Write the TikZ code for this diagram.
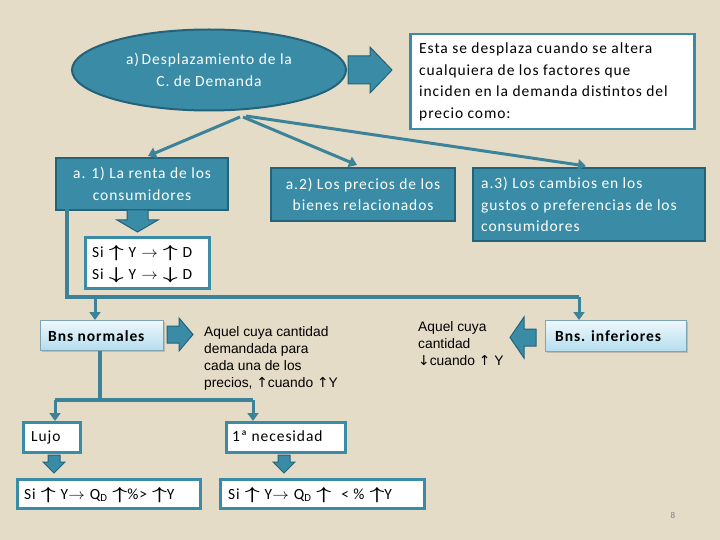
\documentclass[tikz,border=0pt]{standalone}
\usepackage{fontspec}
\setmainfont{Carlito}[LetterSpace=6]
\newfontfamily\arialf{Liberation Sans}
\newfontfamily\symf{DejaVu Sans}
\usetikzlibrary{shapes.geometric,arrows.meta,shadows,calc}
\definecolor{bg}{HTML}{E5DCC8}
\definecolor{tealf}{HTML}{3A8CA6}
\definecolor{tealdk}{HTML}{24627A}
\definecolor{tealln}{HTML}{3C8399}
\definecolor{lbtop}{HTML}{EEF8FC}
\definecolor{lbbot}{HTML}{B4DDEE}
\definecolor{lbdr}{HTML}{7FA5B5}
\newcommand{\ua}{{\symf\char"2191}}
\newcommand{\da}{{\symf\char"2193}}
\newcommand{\bua}{\scalebox{1.8}[1.2]{\boldmath$\uparrow$}}
\newcommand{\bda}{\scalebox{1.8}[1.2]{\boldmath$\downarrow$}}
\newcommand{\bra}{\scalebox{1.15}[1.05]{$\rightarrow$}}
\newcommand{\gp}{\hspace*{5pt}}
\begin{document}
\begin{tikzpicture}[x=1pt,y=-1pt,
  tealbox/.style={draw=tealdk, line width=2.2pt, fill=tealf, text=white, inner sep=0pt,
     font=\fontsize{15.5}{21.5}\selectfont},
  whitebox/.style={draw=tealf, line width=2.5pt, fill=white, text=black, inner sep=0pt},
  lbbox/.style={draw=lbdr, line width=0.8pt, top color=lbtop, bottom color=lbbot, inner sep=0pt,
     drop shadow={opacity=0.35,shadow xshift=1.5pt,shadow yshift=-1.5pt}},
  txt/.style={anchor=base west, inner sep=0pt, font=\fontsize{15.5}{21.5}\selectfont},
  conn/.style={draw=tealln, line width=3pt, -{Triangle[length=8pt,width=11pt]}},
  ribbon/.style={draw=tealln, line width=3.5pt},
  blk/.style={fill=tealf, draw=tealdk, line width=1pt},
  plain/.style={font=\arialf\fontsize{13.8}{17}\selectfont, align=left, inner sep=0pt, anchor=north west}
]
\fill[bg] (0,0) rectangle (720,540);
\useasboundingbox (0,0) rectangle (720,540);

% ellipse
\node[ellipse, draw=tealdk, line width=2pt, fill=tealf, text=white, minimum width=274pt, minimum height=81pt,
  align=center, font=\fontsize{15.5}{22}\selectfont] (ell) at (209,70)
  {a)\,Desplazamiento de la\\C. de Demanda};

% top block arrow
\path[blk] (348,56) -- (370,56) -- (370,47) -- (392,70) -- (370,93) -- (370,84) -- (348,84) -- cycle;

% white top box
\node[whitebox, minimum width=284pt, minimum height=95pt, anchor=north west] (desc) at (409,33) {};
\node[anchor=north west, inner sep=0pt, align=left, font=\fontsize{15.5}{21.5}\selectfont] (desct) at (419,43)
  {Esta se desplaza cuando se altera\\cualquiera de los factores que\\inciden en la demanda distintos del\\precio como:};

% teal boxes
\node[tealbox, minimum width=172pt, minimum height=52pt, align=center, anchor=north west] (a1) at (55,157)
  {a. 1) La renta de los\\consumidores};
\node[tealbox, minimum width=184pt, minimum height=53pt, align=center, anchor=north west] (a2) at (270,167)
  {a.2) Los precios de los\\bienes relacionados};
\node[tealbox, minimum width=232pt, minimum height=73pt, anchor=north west] (a3) at (472,167) {};
\node[anchor=north west, inner sep=0pt, align=left, text=white, font=\fontsize{15.5}{21.5}\selectfont] (a3t) at (481,177)
  {a.3) Los cambios en los\\gustos o preferencias de los\\consumidores};

% connectors from ellipse
\coordinate (e1) at (240,117);
\coordinate (e2) at (243,117);
\coordinate (e3) at (246,116);
\draw[conn] (e1) -- (148,156);
\draw[conn] (e2) -- (357,165);
\draw[conn] (e3) -- (586,166);

% down block arrow under a1
\path[blk] (127,210) -- (148,210) -- (148,220) -- (158,220) -- (137.5,232) -- (117,220) -- (127,220) -- cycle;

% Si box
\node[whitebox, minimum width=124pt, minimum height=51pt, anchor=north west] (si) at (84,236) {};
\node[txt] (sit1) at (92,258) {Si\gp\bua\gp Y\gp\bra\gp\bua\gp D};
\node[txt] (sit2) at (92,279) {Si\gp\bda\gp Y\gp\bra\gp\bda\gp D};

% ribbon
\coordinate (r0) at (67,209);
\coordinate (r1) at (67,297);
\coordinate (r2) at (579,297);
\coordinate (r3) at (95,297);
\draw[ribbon] (r0) -- (r1) -- (r2);

% Bns normales / inferiores
\node[lbbox, minimum width=123pt, minimum height=30pt, anchor=north west] (bn) at (40,320) {};
\node[txt, font=\fontsize{15.5}{18}\selectfont\bfseries] (bnt) at (48,341) {Bns normales};
\node[lbbox, minimum width=141pt, minimum height=31pt, anchor=north west] (bi) at (545,320) {};
\node[txt, font=\fontsize{15.5}{18}\selectfont\bfseries] (bit) at (555,341) {Bns. inferiores};
\draw[conn] (r3) -- (r3 |- bn.north);
\draw[conn] (r2) -- (r2 |- bi.north);

% right block arrow
\path[blk] (167,326) -- (179,326) -- (179,318) -- (193,334.5) -- (179,351) -- (179,343) -- (167,343) -- cycle;
% left block arrow
\path[blk] (536,329) -- (524,329) -- (524,317) -- (510,337.5) -- (524,358) -- (524,346) -- (536,346) -- cycle;

\node[plain] (tn) at (204,326) {Aquel cuya cantidad\\demandada para\\cada una de los\\precios, \ua cuando \ua Y};
\node[plain] (ti) at (418,321) {Aquel cuya\\cantidad\\\da cuando \ua\ Y};

% tree below
\coordinate (b0) at (100,351);
\coordinate (b1) at (100,400);
\coordinate (bl) at (55,400);
\coordinate (br) at (253,400);
\draw[ribbon] (b0) -- (b1);
\draw[ribbon] (bl) -- (br);

\node[whitebox, minimum width=57pt, minimum height=30pt, anchor=north west] (lu) at (22,421) {};
\node[txt] (lut) at (31,441) {Lujo};
\node[whitebox, minimum width=119pt, minimum height=30pt, anchor=north west] (ne) at (225,421) {};
\node[txt] (net) at (232,441) {1ª necesidad};
\draw[conn] (bl) -- (bl |- lu.north);
\draw[conn] (br) -- (br |- ne.north);

% small down arrows
\path[blk] (48,455) -- (60,455) -- (60,462) -- (65,462) -- (54,473) -- (43,462) -- (48,462) -- cycle;
\path[blk] (278,455) -- (290,455) -- (290,462) -- (295,462) -- (284,473) -- (273,462) -- (278,462) -- cycle;

% bottom boxes
\node[whitebox, minimum width=183pt, minimum height=29pt, anchor=north west] (lb) at (16,478) {};
\node[txt] (lbt) at (24,499) {Si\gp\bua\gp Y\bra\gp Q\textsubscript{D}\gp\bua\%>\gp\bua Y};
\node[whitebox, minimum width=204pt, minimum height=29pt, anchor=north west] (nb) at (219,478) {};
\node[txt] (nbt) at (228,499) {Si\gp\bua\gp Y\bra\gp Q\textsubscript{D}\gp\bua\gp\gp < \%\gp\bua Y};

\node[text=gray, font=\fontsize{9}{10}\selectfont, inner sep=0pt] (pg) at (673,515) {8};
\end{tikzpicture}
\end{document}
